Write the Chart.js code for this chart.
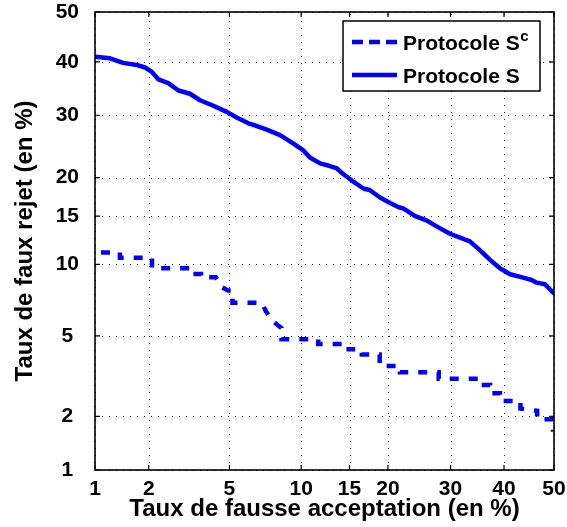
<!DOCTYPE html>
<html><head><meta charset="utf-8">
<script src="https://cdn.jsdelivr.net/npm/chart.js@4/dist/chart.umd.min.js"></script>
<style>html,body{margin:0;padding:0;background:#fff}#wrap{width:567px;height:527px}</style>
</head><body><div id="wrap"><canvas id="c" width="567" height="527"></canvas></div>
<script>
// ---- data (percent) ----
const xTickValues = [1, 2, 5, 10, 15, 20, 30, 40, 50];
const yTickValues = [1, 2, 5, 10, 15, 20, 30, 40, 50];
const seriesNames = ['Protocole S', 'Protocole S'];
const seriesSup = ['c', ''];
const xTitle = 'Taux de fausse acceptation (en %)';
const yTitle = 'Taux de faux rejet (en %)';

// Protocole S^c (dashed)
const scFar = [1.0, 1.39, 1.39, 2.08, 2.08, 3.14, 3.14, 3.68, 3.68, 4.33, 4.62, 4.92, 5.16, 5.16, 6.94, 7.22, 7.79, 8.36, 8.36, 11.6, 11.6, 14.9, 14.9, 16.5, 16.5, 18.85, 18.85, 21.75, 21.75, 27.95, 27.95, 35.4, 35.4, 37.3, 37.3, 39.2, 39.2, 43.25, 43.25, 46.6, 46.6, 49.8, 49.8];
const scFrr = [11.1, 11.1, 10.6, 10.6, 9.65, 9.65, 9.16, 9.16, 8.89, 8.89, 8.10, 7.86, 7.86, 6.99, 6.99, 6.41, 5.77, 5.42, 4.82, 4.82, 4.59, 4.59, 4.33, 4.33, 4.10, 4.10, 3.61, 3.61, 3.36, 3.36, 3.12, 3.12, 2.91, 2.91, 2.64, 2.64, 2.41, 2.41, 2.20, 2.14, 1.93, 1.93, 1.65];

// Protocole S (solid)
const sFar = [1.0, 1.22, 1.45, 1.72, 1.91, 2.07, 2.25, 2.53, 2.85, 3.25, 3.64, 4.21, 4.86, 5.39, 6.07, 6.38, 7.27, 8.25, 9.33, 10.2, 10.8, 11.8, 12.8, 13.5, 14.3, 15.5, 16.7, 17.5, 18.9, 20.3, 21.5, 22.3, 24.1, 25.9, 27.9, 29.9, 31.7, 33.5, 35.4, 37.3, 39.2, 41.2, 43.8, 45.5, 46.5, 48.2, 50];
const sFrr = [41.0, 40.7, 39.8, 39.4, 38.9, 38.1, 36.6, 35.9, 34.5, 33.9, 32.7, 31.7, 30.6, 29.6, 28.6, 28.3, 27.5, 26.6, 25.2, 24.1, 23.0, 22.1, 21.7, 21.4, 20.5, 19.4, 18.5, 18.3, 17.3, 16.6, 16.1, 15.9, 15.0, 14.5, 13.7, 13.0, 12.6, 12.2, 11.3, 10.4, 9.65, 9.14, 8.86, 8.67, 8.46, 8.33, 7.65];

// ---- normal deviate (probit) scale ----
function probit(p){
  const a=[-3.969683028665376e+01,2.209460984245205e+02,-2.759285104469687e+02,1.383577518672690e+02,-3.066479806614716e+01,2.506628277459239e+00];
  const b=[-5.447609879822406e+01,1.615858368580409e+02,-1.556989798598866e+02,6.680131188771972e+01,-1.328068155288572e+01];
  const c=[-7.784894002430293e-03,-3.223964580411365e-01,-2.400758277161838e+00,-2.549732539343734e+00,4.374664141464968e+00,2.938163982698783e+00];
  const d=[7.784695709041462e-03,3.224671290700398e-01,2.445134137142996e+00,3.754408661907416e+00];
  const pl=0.02425, ph=1-pl; let q,r;
  if(p<=0) p=1e-9; if(p>=1) p=1-1e-9;
  if(p<pl){q=Math.sqrt(-2*Math.log(p));return (((((c[0]*q+c[1])*q+c[2])*q+c[3])*q+c[4])*q+c[5])/((((d[0]*q+d[1])*q+d[2])*q+d[3])*q+1);}
  if(p<=ph){q=p-0.5;r=q*q;return (((((a[0]*r+a[1])*r+a[2])*r+a[3])*r+a[4])*r+a[5])*q/(((((b[0]*r+b[1])*r+b[2])*r+b[3])*r+b[4])*r+1);}
  q=Math.sqrt(-2*Math.log(1-p));return -(((((c[0]*q+c[1])*q+c[2])*q+c[3])*q+c[4])*q+c[5])/((((d[0]*q+d[1])*q+d[2])*q+d[3])*q+1);
}
function normCdf(z){
  const t=1/(1+0.3275911*Math.abs(z)/Math.SQRT2);
  const y=1-(((((1.061405429*t-1.453152027)*t)+1.421413741)*t-0.284496736)*t+0.254829592)*t*Math.exp(-z*z/2);
  return 0.5*(1+(z>=0?y:-y));
}
class ProbitScale extends Chart.Scale {
  determineDataLimits(){ this.min = this.options.min; this.max = this.options.max; }
  buildTicks(){ return (this.options.tickValues || []).map(v => ({value: v})); }
  getLabelForValue(v){ return String(v); }
  configure(){ super.configure(); this._zmin = probit(this.min/100); this._zmax = probit(this.max/100); }
  getPixelForValue(v){ return this.getPixelForDecimal((probit(v/100) - this._zmin) / (this._zmax - this._zmin)); }
  getValueForPixel(px){ const t = this.getDecimalForPixel(px); return 100*normCdf(this._zmin + t*(this._zmax - this._zmin)); }
}
ProbitScale.id = 'probit';
ProbitScale.defaults = {};
Chart.register(ProbitScale);

const FONT = "'Liberation Sans', Arial, sans-serif";
const BLUE = '#0000ff';

const toPts = (xs, ys) => xs.map((x, i) => ({x: x, y: ys[i]}));

// dotted grid at the tick values, through the scales
const dottedGrid = {
  id: 'dottedGrid',
  beforeDatasetsDraw(chart){
    const {ctx, chartArea: {left, right, top, bottom}, scales: {x, y}} = chart;
    ctx.save();
    ctx.strokeStyle = '#222';
    ctx.lineWidth = 1;
    ctx.setLineDash([1, 6]);
    ctx.beginPath();
    x.ticks.forEach(t => { const p = Math.round(x.getPixelForValue(t.value)) + 0.5;
      ctx.moveTo(p, bottom); ctx.lineTo(p, top); });
    y.ticks.forEach(t => { const p = Math.round(y.getPixelForValue(t.value)) + 0.5;
      ctx.moveTo(left, p); ctx.lineTo(right, p); });
    ctx.stroke();
    ctx.restore();
  }
};

const frame = {
  id: 'frame',
  afterDatasetsDraw(chart){
    const {ctx, chartArea: {left, right, top, bottom}, scales: {x, y}} = chart;
    ctx.save();
    ctx.setLineDash([]);
    ctx.strokeStyle = '#000';
    ctx.lineWidth = 1.2;
    ctx.beginPath();
    x.ticks.forEach(t => { const p = x.getPixelForValue(t.value);
      ctx.moveTo(p, bottom); ctx.lineTo(p, bottom - 5); ctx.moveTo(p, top); ctx.lineTo(p, top + 5); });
    y.ticks.forEach(t => { const p = y.getPixelForValue(t.value);
      ctx.moveTo(left, p); ctx.lineTo(left + 5, p); ctx.moveTo(right, p); ctx.lineTo(right - 5, p); });
    ctx.stroke();
    ctx.lineWidth = 1.6;
    ctx.strokeRect(left, top, right - left, bottom - top);
    ctx.restore();
  }
};

const legendBox = {
  id: 'legendBox',
  afterDraw(chart){
    const ctx = chart.ctx;
    const bx = 343, by = 21, bw = 197, bh = 70;
    ctx.save();
    ctx.fillStyle = '#fff';
    ctx.fillRect(bx, by, bw, bh);
    ctx.strokeStyle = '#000'; ctx.lineWidth = 1.5; ctx.setLineDash([]);
    ctx.strokeRect(bx, by, bw, bh);
    const rows = [42, 75];
    chart.data.datasets.forEach((ds, i) => {
      const yy = rows[i];
      ctx.strokeStyle = ds.borderColor; ctx.lineWidth = ds.borderWidth;
      ctx.lineCap = 'butt';
      ctx.setLineDash(ds.borderDash && ds.borderDash.length ? [11, 6] : []);
      ctx.beginPath(); ctx.moveTo(352, yy); ctx.lineTo(397, yy); ctx.stroke();
      ctx.setLineDash([]);
      ctx.fillStyle = '#000';
      ctx.font = 'bold 21px ' + FONT;
      ctx.textBaseline = 'alphabetic'; ctx.textAlign = 'left';
      ctx.fillText(seriesNames[i], 403, yy + 8);
      if (seriesSup[i]) {
        const w = ctx.measureText(seriesNames[i]).width;
        ctx.font = 'bold 15px ' + FONT;
        ctx.fillText(seriesSup[i], 403 + w + 0.5, yy - 1);
      }
    });
    ctx.restore();
  }
};

new Chart(document.getElementById('c'), {
  type: 'line',
  data: {
    datasets: [
      { label: 'Protocole Sᶜ', data: toPts(scFar, scFrr), borderColor: BLUE, backgroundColor: BLUE,
        borderWidth: 4.5, borderDash: [9, 10], borderDashOffset: 13, borderCapStyle: 'butt',
        pointRadius: 0, tension: 0, fill: false },
      { label: 'Protocole S', data: toPts(sFar, sFrr), borderColor: BLUE, backgroundColor: BLUE,
        borderWidth: 4.5, borderCapStyle: 'round', borderJoinStyle: 'round',
        pointRadius: 0, tension: 0, fill: false }
    ]
  },
  options: {
    responsive: false, animation: false, devicePixelRatio: 1,
    layout: { padding: { top: 12, right: 13, bottom: 0, left: 0 } },
    plugins: { legend: { display: false }, tooltip: { enabled: false } },
    scales: {
      x: {
        type: 'probit', position: 'bottom', min: 1, max: 50, tickValues: xTickValues,
        afterFit(s){ s.height = 57; s.paddingLeft = 0; s.paddingRight = 0; },
        grid: { display: false, drawTicks: false },
        border: { display: false },
        ticks: { autoSkip: false, maxRotation: 0, minRotation: 0, padding: 7, color: '#000',
                 font: { family: FONT, size: 21, weight: 'bold' } },
        title: { display: true, text: xTitle, color: '#000', padding: { top: 0, bottom: 3 },
                 font: { family: FONT, size: 24, weight: 'bold' } }
      },
      y: {
        type: 'probit', position: 'left', min: 1, max: 50, tickValues: yTickValues,
        afterFit(s){ s.width = 95; s.paddingTop = 0; s.paddingBottom = 0; },
        grid: { display: false, drawTicks: false },
        border: { display: false },
        ticks: { autoSkip: false, padding: 16, crossAlign: 'center', color: '#000',
                 font: { family: FONT, size: 21, weight: 'bold' } },
        title: { display: true, text: yTitle, color: '#000', padding: { top: 11, bottom: 0 },
                 font: { family: FONT, size: 24, weight: 'bold' } }
      }
    }
  },
  plugins: [dottedGrid, frame, legendBox]
});
</script>
</body></html>
